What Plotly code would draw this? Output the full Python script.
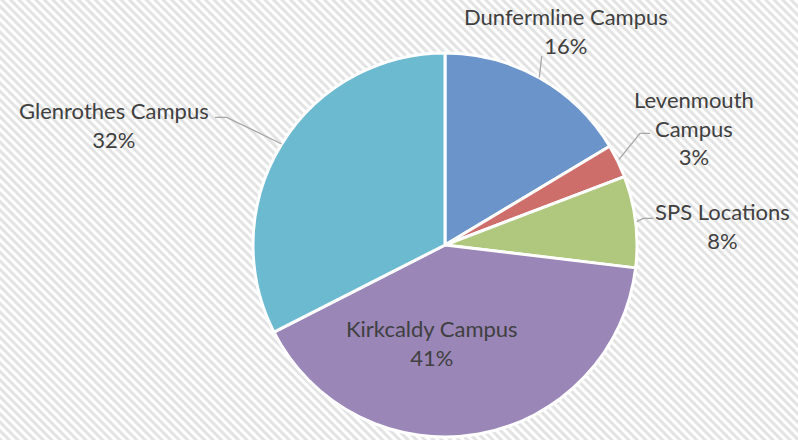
import base64
import plotly.graph_objects as go

labels = ["Dunfermline Campus", "Levenmouth Campus", "SPS Locations", "Kirkcaldy Campus", "Glenrothes Campus"]
label_text = ["Dunfermline Campus", "Levenmouth<br>Campus", "SPS Locations", "Kirkcaldy Campus", "Glenrothes Campus"]
values = [16.4, 2.8, 7.7, 40.6, 32.5]
colors = ["#6b94cb", "#cd6e6b", "#afc87d", "#9a86b7", "#6cbad0"]

W, H = 798, 440

def px(x):
    return x / W

def py(y):
    return 1 - y / H

cx, cy, r = 445, 245, 192

fig = go.Figure()
fig.add_trace(go.Pie(
    labels=labels, values=values, sort=False, direction="clockwise", rotation=0,
    marker=dict(colors=colors, line=dict(color="white", width=3)),
    textinfo="none", hoverinfo="label+percent", showlegend=False,
    domain=dict(x=[px(cx - r), px(cx + r)], y=[py(cy + r), py(cy - r)]),
))

total = sum(values)
pcts = [round(v / total * 100) for v in values]

# label anchor positions (pixels)
label_pos = [(566, 31), (694, 128), (722, 226), (432, 343), (114, 125)]
for lt, p, (lx, ly) in zip(label_text, pcts, label_pos):
    fig.add_annotation(x=px(lx), y=py(ly), xref="paper", yref="paper",
                       text=f"{lt}<br>{p}%", showarrow=False,
                       font=dict(family="Lato, Noto Sans", size=22, color="#404040"),
                       xanchor="center", yanchor="middle", align="center")

leaders = [
    [(541.7, 56), (539.3, 77.5)],
    [(650, 133.3), (640, 133.3), (619, 159.3)],
    [(653.3, 218.3), (643.3, 218.3), (636.7, 221.7)],
    [(215, 117.3), (226.7, 117.3), (281.7, 144)],
]
for pts in leaders:
    path = "M " + " L ".join(f"{px(x)},{py(y)}" for x, y in pts)
    fig.add_shape(type="path", path=path, xref="paper", yref="paper",
                  line=dict(color="#a6a6a6", width=1.3))

svg = f'''<svg xmlns="http://www.w3.org/2000/svg" width="{W}" height="{H}">
<defs><pattern id="p" patternUnits="userSpaceOnUse" width="6" height="6" patternTransform="rotate(-45)">
<rect width="6" height="6" fill="#ffffff"/><rect width="3" height="6" fill="#e3e3e3"/></pattern></defs>
<rect width="{W}" height="{H}" fill="url(#p)"/></svg>'''
uri = "data:image/svg+xml;base64," + base64.b64encode(svg.encode()).decode()
fig.add_layout_image(source=uri, xref="paper", yref="paper", x=0, y=1, sizex=1, sizey=1,
                     xanchor="left", yanchor="top", sizing="stretch", layer="below")

fig.update_layout(width=W, height=H, margin=dict(l=0, r=0, t=0, b=0),
                  paper_bgcolor="white", plot_bgcolor="white")
fig.write_html("out.html")
